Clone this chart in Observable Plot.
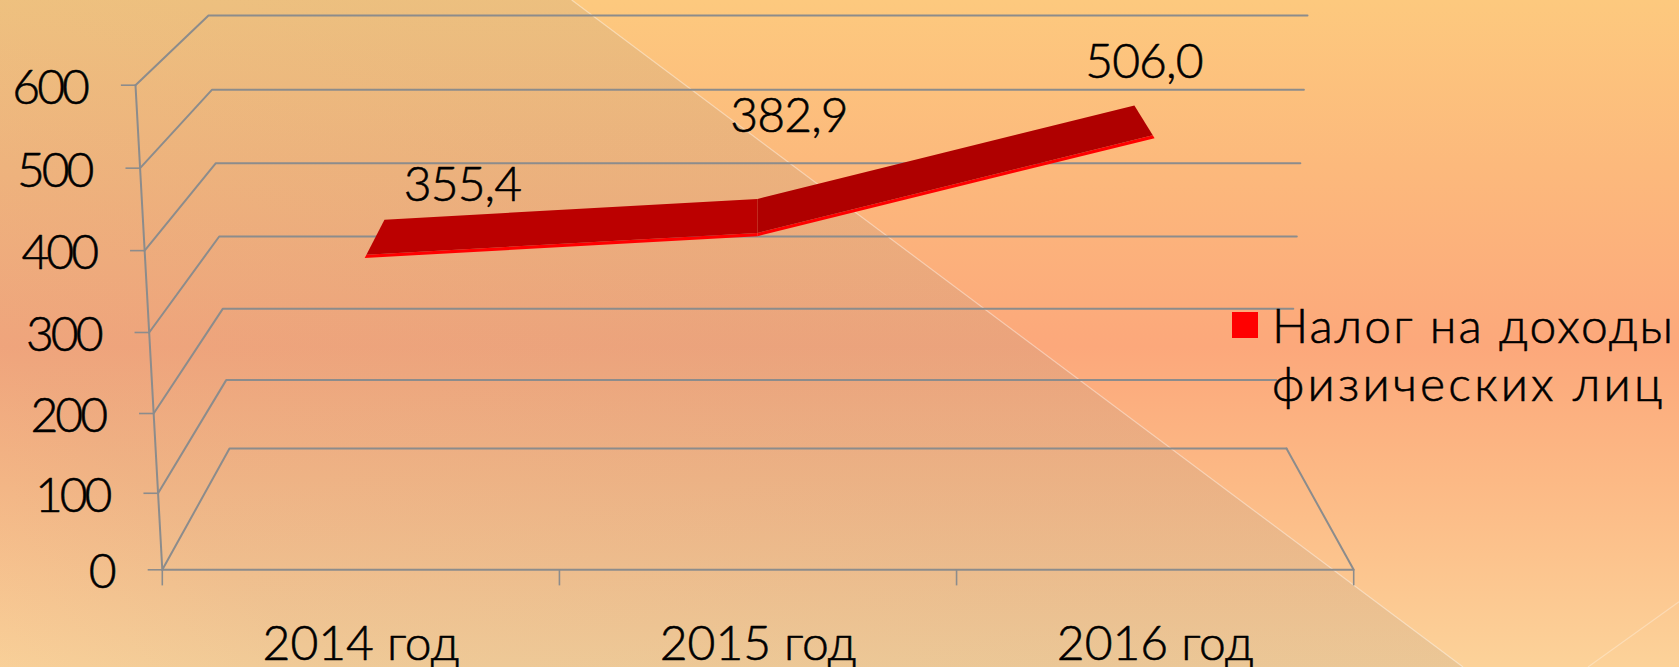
<!DOCTYPE html>
<html lang="ru">
<head>
<meta charset="utf-8">
<script src="https://cdn.jsdelivr.net/npm/d3@7"></script>
<script src="https://cdn.jsdelivr.net/npm/@observablehq/plot@0.6"></script>
<style>
  html, body { margin: 0; padding: 0; width: 1679px; height: 667px; overflow: hidden; }
  body { background: linear-gradient(180deg, #fdc97e 0%, #fcb97c 25%, #fca87b 52%, #fcb985 72%, #fcd299 100%); font-family: Lato, sans-serif; color: #000; position: relative; }
  #shade { position: absolute; inset: 0; background: linear-gradient(45deg, rgba(133,133,133,.03) 0%, rgba(133,133,133,.11) 14%, rgba(133,133,133,.14) 45%); clip-path: polygon(0 0, 571.7px 0, 1463px 667px, 0 667px); }
  #edges { position: absolute; left: 0; top: 0; }
  #chart { position: absolute; left: 0; top: 0; }
  #legend { position: absolute; left: 1232px; top: 296px; }
  #legend i { position: absolute; left: 0; top: 16px; width: 26px; height: 25.5px; background: #ff0000; }
  #legend span { position: absolute; left: 40px; font-size: 48px; line-height: 58px; white-space: nowrap; font-weight: 300; -webkit-text-stroke: 0.6px #000; }
  #legend .l1 { top: 0; letter-spacing: 2.1px; }
  #legend .l2 { top: 58px; letter-spacing: 3.2px; }
</style>
</head>
<body>
<div id="shade"></div>
<svg id="edges" width="1679" height="667">
  <line x1="571.7" y1="0" x2="1463" y2="667" stroke="#fff" stroke-opacity=".4" stroke-width="1.2"/>
  <line x1="1588" y1="667" x2="1679" y2="601.7" stroke="#fff" stroke-opacity=".3" stroke-width="1.2"/>
</svg>
<div id="chart"></div>
<div id="legend"><i></i><span class="l1">Налог на доходы</span><span class="l2">физических лиц</span></div>
<script>
const categories = ["2014 год", "2015 год", "2016 год"];
const values = [355.4, 382.9, 506.0];
const valueLabels = ["355,4", "382,9", "506,0"];
const gridValues = [0, 100, 200, 300, 400, 500, 600];
const gridEnds = [3, 2.962, 3, 3, 3, 3, 3];
const ribbonDepth = {front: 0.315, edge: 0.352, back: 0.735};
const labelOffsets = [{dx: 77.5, dy: -35}, {dx: 31, dy: -83}, {dx: 9, dy: -43}];

// Pseudo-3D view of the chart box, expressed in the units of the x and y scales.
const expo = 1.03;
const rise = (v) => Math.pow(v / 600, expo);
const project = (c, v, d) => {
  const w = rise(v) * (1 - 0.1065 * d) + 0.2503 * d;
  return {
    x: 1.5 + (c - 1.5) * (1 + 0.045 * w) * (1 - 0.1227 * d),
    y: 600 * Math.pow(w, 1 / expo)
  };
};
const pt = (c, v, d) => { const p = project(c, v, d); return [p.x, p.y]; };

const gridPaths = [
  ...gridValues.map((v, i) => ({k: "g" + v, pts: [pt(0, v, 0), pt(0, v, 1), pt(gridEnds[i], v, 1)]})),
  {k: "axis", pts: [pt(0, 0, 0), pt(0, 600, 0)]},
  {k: "floor", pts: [pt(0, 0, 0), pt(3, 0, 0), pt(3, 0, 1)]}
].flatMap(({k, pts}) => pts.map(([x, y]) => ({k, x, y})));

const ribbon = (i, from, to) => [i, i + 1].map((j) => {
  const a = project(j + 0.5, values[j], from);
  const b = project(j + 0.5, values[j], to);
  return {x1: a.x, y1: a.y, x2: b.x, y2: b.y};
});
const ribbonMark = (i, from, to, fill) =>
  Plot.area(ribbon(i, from, to), {x1: "x1", y1: "y1", x2: "x2", y2: "y2", fill});

const axisFont = {fontSize: 48, fontFamily: "Lato, sans-serif", fontWeight: 300, fill: "#000", stroke: "#000", strokeWidth: 0.6};
const gridStroke = {stroke: "#8c8c8c", strokeWidth: 2};

const chart = Plot.plot({
  width: 1679,
  height: 667,
  margin: 0,
  style: {background: "transparent"},
  x: {type: "linear", domain: [0, 3], range: [161.8, 1353.2], axis: null},
  y: {type: "pow", exponent: expo, domain: [0, 600], range: [569.3, 84.7], axis: null},
  marks: [
    Plot.line(gridPaths, {x: "x", y: "y", z: "k", ...gridStroke}),
    Plot.link(gridValues, {
      x1: (v) => project(0, v, 0).x - 0.0368, x2: (v) => project(0, v, 0).x,
      y1: (v) => v, y2: (v) => v, ...gridStroke, strokeWidth: 1.6
    }),
    Plot.ruleX([0, 1, 2, 3], {y1: 0, y2: -22, ...gridStroke, strokeWidth: 1.6}),
    Plot.text(gridValues, {
      x: (v) => project(0, v, 0).x - 0.0368, y: (v) => v, text: (v) => String(v),
      textAnchor: "end", dx: -34, dy: 3, ...axisFont
    }),
    Plot.text(categories, {
      x: (_, i) => i + 0.5, y: () => 0, text: (d) => d,
      dy: 75, ...axisFont
    }),
    ribbonMark(0, ribbonDepth.front, ribbonDepth.edge, "#ff0000"),
    ribbonMark(1, ribbonDepth.front, ribbonDepth.edge, "#ff0000"),
    ribbonMark(0, ribbonDepth.edge, ribbonDepth.back, "#bb0000"),
    ribbonMark(1, ribbonDepth.edge, ribbonDepth.back, "#af0000"),
    ...values.map((v, i) => Plot.text([v], {
      x: () => project(i + 0.5, v, ribbonDepth.back).x,
      y: () => project(i + 0.5, v, ribbonDepth.back).y,
      text: () => valueLabels[i],
      dx: labelOffsets[i].dx, dy: labelOffsets[i].dy, ...axisFont
    }))
  ]
});
const tightenText = (labels, spacing) => d3.select(chart).selectAll("text")
  .filter(function () { return labels.includes(this.textContent); })
  .style("letter-spacing", spacing);
tightenText(gridValues.map(String), "-3px");
tightenText(valueLabels, "-0.9px");
document.getElementById("chart").append(chart);
</script>
</body>
</html>
